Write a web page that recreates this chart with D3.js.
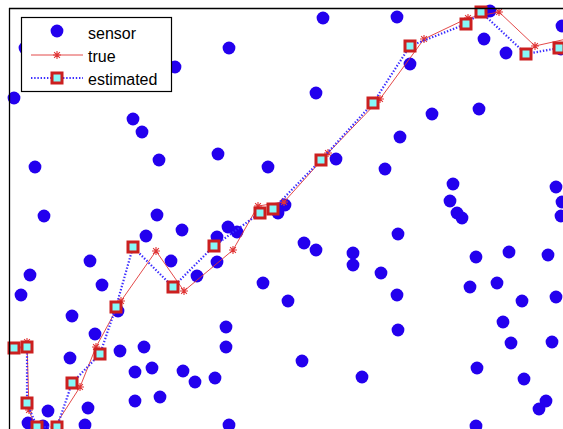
<!DOCTYPE html>
<html>
<head>
<meta charset="utf-8">
<script src="https://cdn.jsdelivr.net/npm/d3@7"></script>
<style>
  html, body { margin: 0; padding: 0; background: #fff; overflow: hidden; }
  svg { display: block; }
</style>
</head>
<body>
<svg width="563" height="429"></svg>
<script>
// sensor positions
const sensorX = [16,166,5,124,133,26,150,35,148,314,220,307,209,259,327,276,269,388,481,553,475,497,401,552,423,470,391,376,444,441,448,453,547,553,552,173,137,81,21,93,12,162,63,86,109,111,135,61,126,143,174,126,151,79,39,19,76,34,219,228,208,208,188,295,307,344,344,254,279,217,217,186,206,293,353,220,372,389,388,389,467,500,539,461,488,513,547,494,502,543,468,515,537,530,467];
const sensorY = [381,362,331,310,297,262,269,213,214,411,381,336,275,262,270,224,216,412,418,403,390,376,365,380,315,320,292,260,245,228,216,211,242,227,213,199,193,168,154,144,134,168,113,95,118,78,82,71,57,61,58,28,32,21,18,6,4,3,202,197,192,167,153,186,179,176,164,146,128,102,82,47,51,68,52,4,156,195,134,99,172,177,174,142,146,128,132,107,86,87,61,50,28,20,3];

// true track
const trueX = [18,20,33,71,87,112,147,175,224,249,275,319,371,415,459,490,526,571];
const trueY = [87,19,-17,42,82,128,178,138,179,223,227,276,330,390,411,417,383,393];

// estimated track
const estX = [5,18,18,28,48,63,91,107,124,164,205,251,264,312,364,401,457,472,517,550];
const estY = [81,82,26,2,2,46,75,122,182,142,183,216,220,269,326,383,405,417,375,381];

const legendLabels = ["sensor", "true", "estimated"];

const svg = d3.select("svg");
const width = +svg.attr("width");
const height = +svg.attr("height");

const x = d3.scaleLinear().domain([0, 554]).range([9, 563]);
const y = d3.scaleLinear().domain([0, 421]).range([429, 8]);

const sensors = sensorX.map((v, i) => ({x: v, y: sensorY[i]}));
const truth = trueX.map((v, i) => ({x: v, y: trueY[i]}));
const est = estX.map((v, i) => ({x: v, y: estY[i]}));

const blue = "#2300ee";
const red = "#e03535";
const edge = "#cc1f1f";
const cyan = "#88f8f8";
const dotBlue = "#3a2cff";

const line = d3.line().x(d => x(d.x)).y(d => y(d.y));

// sensors
svg.append("g").selectAll("circle")
  .data(sensors)
  .enter().append("circle")
  .attr("cx", d => x(d.x))
  .attr("cy", d => y(d.y))
  .attr("r", 6.4)
  .attr("fill", blue);

// true path
svg.append("path")
  .datum(truth)
  .attr("d", line)
  .attr("fill", "none")
  .attr("stroke", red)
  .attr("stroke-width", 0.9);

function asterisk(g) {
  g.append("path")
    .attr("d", "M-4,0H4M0,-4V4M-2.9,-2.9L2.9,2.9M-2.9,2.9L2.9,-2.9")
    .attr("stroke", red)
    .attr("stroke-width", 1.1)
    .attr("fill", "none");
}
svg.append("g").selectAll("g")
  .data(truth)
  .enter().append("g")
  .attr("transform", d => `translate(${x(d.x)},${y(d.y)})`)
  .call(asterisk);

// estimated path
svg.append("path")
  .datum(est)
  .attr("d", line)
  .attr("fill", "none")
  .attr("stroke", dotBlue)
  .attr("stroke-width", 2.2)
  .attr("stroke-dasharray", "1.4,1.8");

svg.append("g").selectAll("rect")
  .data(est)
  .enter().append("rect")
  .attr("x", d => x(d.x) - 5)
  .attr("y", d => y(d.y) - 5)
  .attr("width", 10)
  .attr("height", 10)
  .attr("fill", cyan)
  .attr("stroke", edge)
  .attr("stroke-width", 3);

// axes box (only left and top are visible)
svg.append("line")
  .attr("x1", 9).attr("x2", width).attr("y1", 8.5).attr("y2", 8.5)
  .attr("stroke", "#000").attr("stroke-width", 1.3);
svg.append("line")
  .attr("x1", 9.5).attr("x2", 9.5).attr("y1", 8).attr("y2", height)
  .attr("stroke", "#000").attr("stroke-width", 1.3);

// legend
const legend = svg.append("g");
legend.append("rect")
  .attr("x", 21.5).attr("y", 17.5)
  .attr("width", 150).attr("height", 74)
  .attr("fill", "#fff")
  .attr("stroke", "#000")
  .attr("stroke-width", 1.2);

const rowY = [31, 55, 78];
const textY = [39, 62, 85];

legend.append("circle")
  .attr("cx", 57).attr("cy", rowY[0]).attr("r", 6.4).attr("fill", blue);

legend.append("line")
  .attr("x1", 31).attr("x2", 83).attr("y1", rowY[1]).attr("y2", rowY[1])
  .attr("stroke", red).attr("stroke-width", 0.9);
legend.append("g")
  .attr("transform", `translate(57,${rowY[1]})`)
  .call(asterisk);

legend.append("line")
  .attr("x1", 31).attr("x2", 83).attr("y1", rowY[2]).attr("y2", rowY[2])
  .attr("stroke", dotBlue).attr("stroke-width", 2.2)
  .attr("stroke-dasharray", "1.4,1.8");
legend.append("rect")
  .attr("x", 52).attr("y", rowY[2] - 5)
  .attr("width", 10).attr("height", 10)
  .attr("fill", cyan).attr("stroke", edge).attr("stroke-width", 3);

legend.selectAll("text")
  .data(legendLabels)
  .enter().append("text")
  .attr("x", 88)
  .attr("y", (d, i) => textY[i])
  .attr("font-family", "'Liberation Sans', Arial, sans-serif")
  .attr("font-size", 16)
  .attr("fill", "#000")
  .text(d => d);
</script>
</body>
</html>
